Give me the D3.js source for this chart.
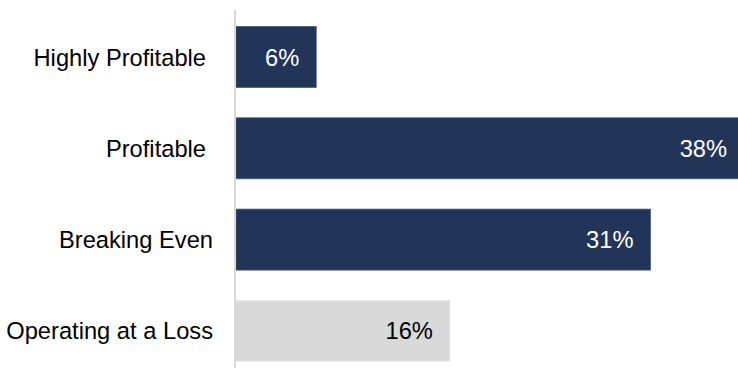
<!DOCTYPE html>
<html>
<head>
<meta charset="utf-8">
<script src="https://cdn.jsdelivr.net/npm/d3@7"></script>
<style>
  html, body { margin: 0; padding: 0; background: #fff; overflow: hidden; }
  svg { display: block; }
  text { font-family: Arial, "Liberation Sans", sans-serif; }
</style>
</head>
<body>
<svg id="chart" width="738" height="368"></svg>
<script>
const categories = ["Highly Profitable", "Profitable", "Breaking Even", "Operating at a Loss"];
const values = [6, 38, 31, 16];
const barColors = ["#223457", "#223457", "#223457", "#d9d9d9"];
const labelColors = ["#ffffff", "#ffffff", "#ffffff", "#000000"];

// layout constants (not data)
const labelRight = [206, 206, 213, 213];
const FONT = 23.7;

const svg = d3.select("#chart");
const W = 738, H = 368;

const x = d3.scaleLinear().domain([0, 40]).range([236, 236 + 40 * 13.37]);
const y = d3.scaleBand().domain(categories).range([26.5, 361.4]).paddingInner(0.332).paddingOuter(0);

// bars
svg.append("g").selectAll("rect")
  .data(categories)
  .join("rect")
  .attr("x", x(0))
  .attr("y", d => y(d))
  .attr("width", (d, i) => x(values[i]) - x(0))
  .attr("height", y.bandwidth())
  .attr("fill", (d, i) => barColors[i])
  .attr("stroke", (d, i) => i < 3 ? "#4a5a7c" : "none")
  .attr("stroke-width", 0.8);

// axis line
svg.append("line")
  .attr("x1", 235).attr("x2", 235)
  .attr("y1", 10).attr("y2", H)
  .attr("stroke", "#d9d9d9")
  .attr("stroke-width", 2);

// category labels
svg.append("g").selectAll("text")
  .data(categories)
  .join("text")
  .attr("x", (d, i) => labelRight[i])
  .attr("y", d => y(d) + y.bandwidth() / 2)
  .attr("dy", "0.36em")
  .attr("text-anchor", "end")
  .attr("font-size", FONT)
  .attr("fill", "#000")
  .text(d => d);

// value labels
svg.append("g").selectAll("text")
  .data(categories)
  .join("text")
  .attr("x", (d, i) => x(values[i]) - 17)
  .attr("y", d => y(d) + y.bandwidth() / 2)
  .attr("dy", "0.36em")
  .attr("text-anchor", "end")
  .attr("font-size", FONT)
  .attr("fill", (d, i) => labelColors[i])
  .text((d, i) => values[i] + "%");
</script>
</body>
</html>
